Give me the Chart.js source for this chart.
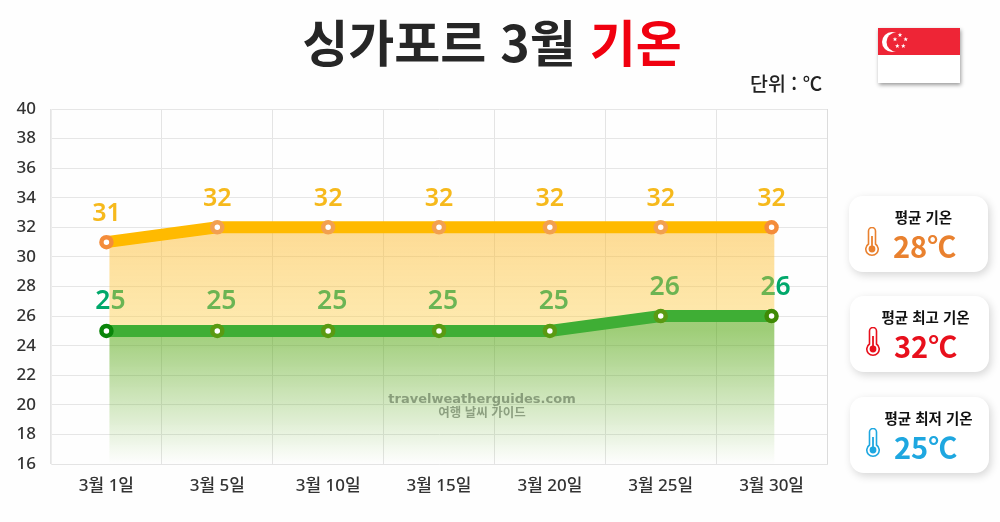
<!DOCTYPE html>
<html lang="ko">
<head>
<meta charset="utf-8">
<title>싱가포르 3월 기온</title>
<script src="https://cdn.jsdelivr.net/npm/chart.js@4"></script>
<style>
  html, body { margin: 0; padding: 0; background: #fefefe; }
  body { width: 1000px; height: 522px; position: relative; overflow: hidden; font-family: "Noto Sans", "Noto Sans CJK KR", sans-serif; }
  canvas { position: absolute; left: 0; top: 0; }
  .title { position: absolute; left: 0; top: 5px; width: 984px; text-align: center; font-family: "Noto Sans CJK KR"; font-size: 50px; font-weight: 700; line-height: 70px; color: #262626; }
  .title span { color: #f0000f; }
  .unit { position: absolute; left: 750px; top: 70px; font-family: "Noto Sans CJK KR"; font-size: 19.5px; line-height: 26px; font-weight: 500; color: #222; }
  .flag { position: absolute; left: 878px; top: 28px; width: 82px; height: 55px; box-shadow: 1px 2px 4px rgba(0,0,0,.4); }
  .mark { position: absolute; left: 282px; width: 400px; text-align: center; color: rgba(90,110,80,.6); font-weight: 700; }
  .card { position: absolute; width: 139px; height: 76px; background: #fff; border-radius: 14px; box-shadow: 2px 3px 9px rgba(0,0,0,.16); }
  .card b { position: absolute; top: 10px; width: 139px; text-align: center; font-family: "Noto Sans CJK KR"; font-size: 14.5px; line-height: 22px; font-weight: 700; color: #111; white-space: nowrap; }
  .card i { position: absolute; top: 28px; font-family: "Noto Sans CJK KR"; font-style: normal; font-size: 29px; line-height: 42px; font-weight: 700; white-space: nowrap; }
  .card svg { position: absolute; top: 31px; }
</style>
</head>
<body>
<canvas id="chart" width="1000" height="522"></canvas>
<div class="title">싱가포르 3월 <span>기온</span></div>
<div class="unit">단위 : ℃</div>
<svg class="flag" viewBox="0 0 82 55">
  <defs><polygon id="st" points="0,-2.4 .6,-.8 2.3,-.7 1,.3 1.4,2 0,1 -1.4,2 -1,.3 -2.3,-.7 -.6,-.8"/></defs>
  <rect width="82" height="27" fill="#ee2536"/>
  <rect y="27" width="82" height="28" fill="#fff"/>
  <circle cx="14" cy="14" r="10" fill="#fff"/>
  <circle cx="18" cy="14" r="9.5" fill="#ee2536"/>
  <g fill="#fff">
    <use href="#st" x="22" y="7"/><use href="#st" x="27.7" y="11.3"/><use href="#st" x="17" y="11.3"/>
    <use href="#st" x="19.3" y="18"/><use href="#st" x="25.3" y="18"/>
  </g>
</svg>
<div class="mark" style="top:390px;font-family:'DejaVu Sans';font-size:13px;line-height:18px;">travelweatherguides.com</div>
<div class="mark" style="top:404px;font-family:'Noto Sans CJK KR';font-size:12.5px;line-height:16px;">여행 날씨 가이드</div>
<div id="cards"></div>

<script>
const categories = ["3월 1일", "3월 5일", "3월 10일", "3월 15일", "3월 20일", "3월 25일", "3월 30일"];
const highTemps = [31, 32, 32, 32, 32, 32, 32];
const lowTemps = [25, 25, 25, 25, 25, 26, 26];

const cardLabels = ["평균 기온", "평균 최고 기온", "평균 최저 기온"];
const cardValues = ["28℃", "32℃", "25℃"];
const cardColors = ["#e9812f", "#e8101c", "#1ea7e0"];
const cardTops = [196, 296, 397];

// 오른쪽 카드
const cardsEl = document.getElementById("cards");
cardLabels.forEach(function(label, i) {
    const c = cardColors[i];
    const shift = [5, 6, 9][i];
    const left = 849 + (i > 0 ? 1 : 0);
    cardsEl.innerHTML +=
        '<div class="card" style="left:' + left + 'px;top:' + cardTops[i] + 'px">' +
        '<b style="left:' + shift + 'px">' + label + '</b>' +
        '<svg style="left:16px" width="14" height="30" viewBox="0 0 14 30">' +
        '<path d="M3.5 17V4a3.5 3.5 0 0 1 7 0v13a6.2 6.2 0 1 1-7 0z" fill="none" stroke="' + c + '" stroke-width="1.6"/>' +
        '<path d="M7 9v13" stroke="' + c + '" stroke-width="1.8"/>' +
        '<circle cx="7" cy="22" r="3.4" fill="' + c + '"/></svg>' +
        '<i style="left:44px;color:' + c + '">' + cardValues[i] + '</i></div>';
});

// 값 라벨과 영역 채우기: 선보다 먼저 그린다
const underLines = {
    id: "underLines",
    beforeDatasetsDraw: function(chart) {
        const ctx = chart.ctx;
        const area = chart.chartArea;
        const high = chart.getDatasetMeta(0).data;
        const low = chart.getDatasetMeta(1).data;
        const last = high.length - 1;

        ctx.save();
        ctx.textAlign = "center";
        ctx.textBaseline = "middle";
        ctx.font = '600 25px "Noto Sans"';
        ctx.fillStyle = "#f6b91c";
        high.forEach(function(p, i) { ctx.fillText(highTemps[i], p.x, p.y - 28); });
        ctx.font = '600 26.5px "Noto Sans"';
        ctx.fillStyle = "#00a86b";
        low.forEach(function(p, i) { ctx.fillText(lowTemps[i], p.x + 4, p.y - 29); });
        ctx.restore();

        const xLeft = high[0].x + 3;
        const xRight = high[last].x + 3;
        ctx.save();
        ctx.beginPath();
        ctx.rect(xLeft, area.top, xRight - xLeft, area.height);
        ctx.clip();

        const orange = ctx.createLinearGradient(0, high[1].y, 0, low[0].y);
        orange.addColorStop(0, "rgba(253,180,30,.47)");
        orange.addColorStop(1, "rgba(255,205,60,.4)");
        ctx.fillStyle = orange;
        ctx.beginPath();
        high.forEach(function(p) { ctx.lineTo(p.x, p.y); });
        ctx.lineTo(xRight, high[last].y);
        ctx.lineTo(xRight, low[last].y);
        for (let i = last; i >= 0; i--) ctx.lineTo(low[i].x, low[i].y);
        ctx.closePath();
        ctx.fill();

        const green = ctx.createLinearGradient(0, low[0].y, 0, area.bottom);
        green.addColorStop(0, "rgba(80,165,10,.55)");
        green.addColorStop(1, "rgba(80,165,10,0)");
        ctx.fillStyle = green;
        ctx.beginPath();
        low.forEach(function(p) { ctx.lineTo(p.x, p.y); });
        ctx.lineTo(xRight, low[last].y);
        ctx.lineTo(xRight, area.bottom);
        ctx.lineTo(low[0].x, area.bottom);
        ctx.closePath();
        ctx.fill();
        ctx.restore();
    }
};

new Chart(document.getElementById("chart"), {
    type: "line",
    data: {
        labels: categories,
        datasets: [
            {
                label: "최고",
                data: highTemps,
                borderColor: "#ffba00",
                borderWidth: 12,
                tension: 0,
                pointRadius: 5,
                pointBorderWidth: 4.5,
                pointBackgroundColor: "#fff",
                pointBorderColor: ["#f48c3a", "#f2a050", "#f2a050", "#f2a050", "#f2a050", "#f2a050", "#f48c3a"]
            },
            {
                label: "최저",
                data: lowTemps,
                borderColor: "#3fae35",
                borderWidth: 12,
                tension: 0,
                pointRadius: 5,
                pointBorderWidth: 4.5,
                pointBackgroundColor: "#fff",
                pointBorderColor: ["#0a850a", "#5a9a12", "#5a9a12", "#5a9a12", "#5a9a12", "#5a9a12", "#3f8a05"]
            }
        ]
    },
    options: {
        responsive: false,
        animation: false,
        layout: { padding: { left: 0, top: 109, right: 173, bottom: 0 } },
        plugins: { legend: { display: false }, tooltip: { enabled: false } },
        scales: {
            x: {
                offset: true,
                afterFit: function(scale) { scale.height = 58; },
                grid: { color: "#e4e4e4", offset: true, drawTicks: false },
                border: { color: "#e4e4e4" },
                ticks: { color: "#333", padding: 12, maxRotation: 0, font: { family: "'Noto Sans', 'Noto Sans CJK KR'", size: 17, weight: 500 } }
            },
            y: {
                min: 16,
                max: 40,
                afterFit: function(scale) { scale.width = 51; },
                grid: { color: "#e6e6e6", drawTicks: false },
                border: { color: "#ececec" },
                ticks: { stepSize: 2, color: "#333", padding: 15, font: { family: "Noto Sans", size: 17, weight: 500 } }
            }
        }
    },
    plugins: [underLines, {
        id: "rightEdge",
        afterDraw: function(chart) {
            // 오른쪽 테두리
            const a = chart.chartArea;
            chart.ctx.save();
            chart.ctx.strokeStyle = "#dcdcdc";
            chart.ctx.beginPath();
            chart.ctx.moveTo(a.right + .5, a.top);
            chart.ctx.lineTo(a.right + .5, a.bottom);
            chart.ctx.stroke();
            chart.ctx.restore();
        }
    }]
});
</script>
</body>
</html>
